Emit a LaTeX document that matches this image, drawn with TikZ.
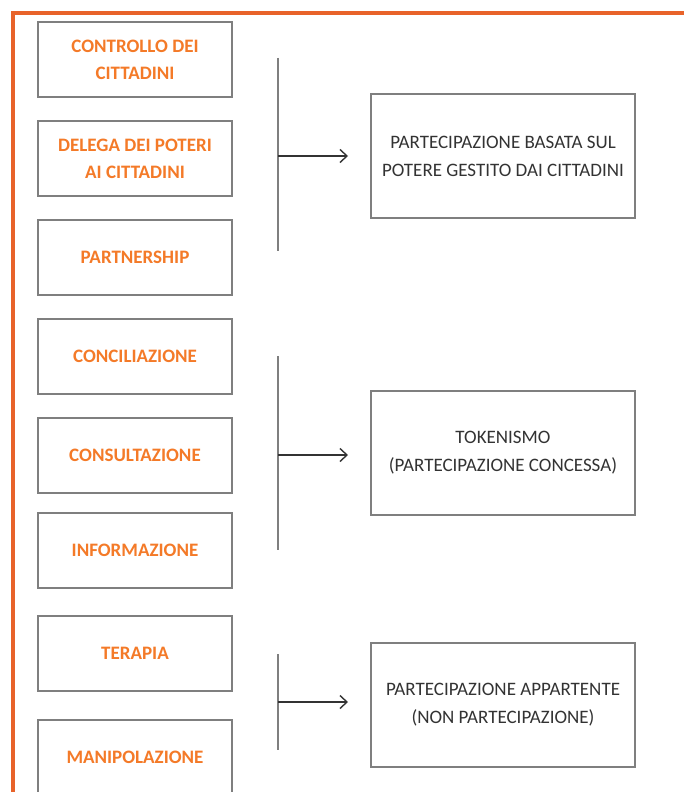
\documentclass[tikz,border=0pt]{standalone}
\usepackage{fontspec}
\setmainfont{Carlito}
\usetikzlibrary{arrows.meta}
\definecolor{frameorange}{HTML}{E8632A}
\definecolor{textorange}{HTML}{F47A28}
\definecolor{boxgray}{HTML}{7F7F7F}
\definecolor{txtgray}{HTML}{333333}
\tikzset{
  levelbox/.style={draw=boxgray, line width=1.8pt, minimum width=194pt, minimum height=75pt, inner sep=0pt,
    align=center, text=textorange, font=\fontsize{19}{27}\selectfont\bfseries},
  groupbox/.style={draw=boxgray, line width=1.6pt, minimum width=264pt, minimum height=124pt, inner sep=0pt,
    align=center, text=txtgray, font=\fontsize{19}{28}\selectfont},
  bracket/.style={draw=boxgray, line width=1.6pt},
  link/.style={draw=txtgray, line width=1.4pt, -{Straight Barb[length=7pt,width=13pt,line width=1.4pt]}}
}
\begin{document}
\begin{tikzpicture}[x=1pt,y=-1pt]
\useasboundingbox (0,0) rectangle (684,792);
\clip (0,0) rectangle (684,792);
\fill[white] (0,0) rectangle (684,792);
% frame
\draw[frameorange, line width=4pt] (13,795) -- (13,13) -- (690,13);
% left level boxes
\node[levelbox] (b1) at (135,59.5) {CONTROLLO DEI\\CITTADINI};
\node[levelbox] (b2) at (135,158.5) {DELEGA DEI POTERI\\AI CITTADINI};
\node[levelbox] (b3) at (135,257.5) {PARTNERSHIP};
\node[levelbox] (b4) at (135,356.5) {CONCILIAZIONE};
\node[levelbox] (b5) at (135,455.5) {CONSULTAZIONE};
\node[levelbox] (b6) at (135,550.5) {INFORMAZIONE};
\node[levelbox] (b7) at (135,653.5) {TERAPIA};
\node[levelbox] (b8) at (135,757.5) {MANIPOLAZIONE};
% right group boxes
\node[groupbox] (g1) at (503,156) {PARTECIPAZIONE BASATA SUL\\POTERE GESTITO DAI CITTADINI};
\node[groupbox] (g2) at (503,453) {TOKENISMO\\(PARTECIPAZIONE CONCESSA)};
\node[groupbox] (g3) at (503,705) {PARTECIPAZIONE APPARTENTE\\(NON PARTECIPAZIONE)};
% brackets
\coordinate (t1) at (278,58);  \coordinate (e1) at (278,251); \coordinate (m1) at (278,156);
\coordinate (t2) at (278,356); \coordinate (e2) at (278,550); \coordinate (m2) at (278,455);
\coordinate (t3) at (278,654); \coordinate (e3) at (278,750); \coordinate (m3) at (278,702);
\coordinate (a1) at (348,156); \coordinate (a2) at (348,455); \coordinate (a3) at (348,702);
\draw[bracket] (t1) -- (e1);
\draw[bracket] (t2) -- (e2);
\draw[bracket] (t3) -- (e3);
\draw[link] (m1) -- (a1);
\draw[link] (m2) -- (a2);
\draw[link] (m3) -- (a3);
\end{tikzpicture}
\end{document}
